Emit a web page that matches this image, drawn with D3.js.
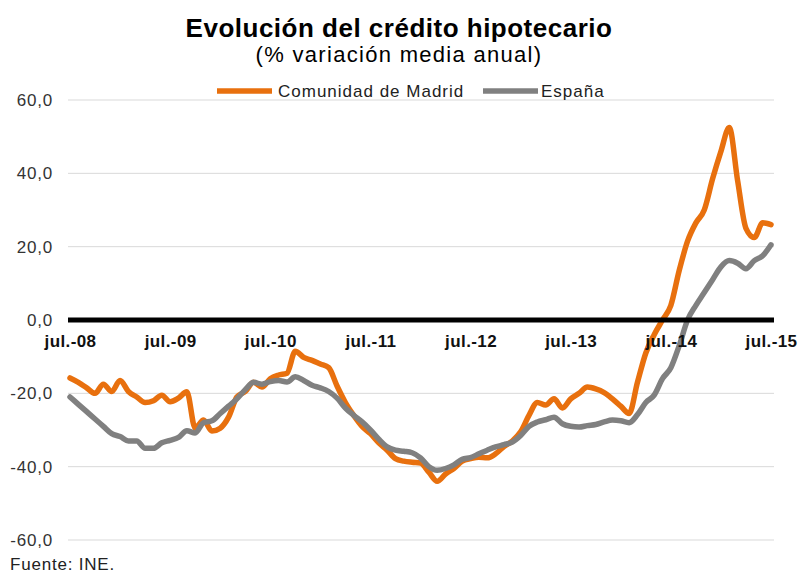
<!DOCTYPE html>
<html>
<head>
<meta charset="utf-8">
<script src="https://cdn.jsdelivr.net/npm/d3@7"></script>
<style>
    body { margin: 0; background: #fff; }
    svg text { font-family: "Liberation Sans", Arial, sans-serif; }
</style>
</head>
<body>
<svg id="chart" width="798" height="576"></svg>
<script>
// monthly values, jul-08 .. jul-15
const months = d3.range(85);
const xLabels = ["jul.-08", "jul.-09", "jul.-10", "jul.-11", "jul.-12", "jul.-13", "jul.-14", "jul.-15"];
const yTicks = [-60, -40, -20, 0, 20, 40, 60];

const madrid = [
    -15.8, -17, -18.5, -20, -17.5, -19.5, -16.5, -19.5, -21, -22.5, -22, -20.5,
    -22.3, -21.3, -19.6, -29.5, -27.3, -30.3, -29.5, -26.5, -21, -19.5, -17, -18.3,
    -16, -15, -14.5, -8.5, -10.2, -11, -12, -13, -18, -22.5, -26, -29,
    -31, -33.5, -35.5, -37.8, -38.5, -38.8, -39, -41.5, -44, -42, -40.5, -38.5,
    -37.8, -37.4, -37.6, -36.5, -34.5, -33, -30.5, -26, -22.5, -23.2, -21.5, -24,
    -21.5, -20, -18.3, -18.8, -19.8, -21.5, -23.5, -25.5, -17, -9, -4, 0,
    4, 13.5, 21.5, 26.5, 30, 38.5, 46, 52.5, 38, 25, 22.5, 26.5,
    26
];

const espana = [
    -21, -23, -25, -27, -29, -31, -31.8, -33, -33, -35, -35, -33.5,
    -32.8, -32, -30.2, -30.8, -28, -27.5, -25.5, -23.5, -21.5, -19, -17, -17.5,
    -16.8, -16.5, -16.9, -15.5, -16.5, -17.8, -18.5, -19.5, -21.3, -24, -26, -27.8,
    -30, -32.5, -34.6, -35.5, -35.8, -36.2, -37.6, -40, -41, -40.5, -39.5, -38,
    -37.5, -36.5, -35.5, -34.6, -34, -33.3, -31.5, -29, -27.8, -27.2, -26.5, -28.3,
    -29, -29.2, -28.8, -28.5, -27.8, -27.3, -27.5, -28, -25.8, -22.5, -20.5, -16,
    -13, -7, 0, 4, 7.5, 11, 14.5, 16.2, 15.5, 14, 16.2, 17.5,
    20.5
];

const series = [
    { name: "Comunidad de Madrid", values: madrid, color: "#e8700e" },
    { name: "España", values: espana, color: "#808080" }
];

const svg = d3.select("#chart");
const plotLeft = 68, plotRight = 774, plotTop = 100, plotBottom = 540;

const x = d3.scaleLinear().domain([0, 84]).range([70, 771]);
const y = d3.scaleLinear().domain([-60, 60]).range([plotBottom, plotTop]);

// title
svg.append("text")
    .attr("x", 399).attr("y", 37)
    .attr("text-anchor", "middle")
    .style("font-size", "26px").style("font-weight", "bold")
    .style("letter-spacing", "0.5px")
    .text("Evolución del crédito hipotecario");
svg.append("text")
    .attr("x", 399).attr("y", 62)
    .attr("text-anchor", "middle")
    .style("font-size", "22px")
    .style("letter-spacing", "1.3px")
    .text("(% variación media anual)");

// grid
svg.selectAll(".grid")
    .data(yTicks.filter(d => d != 0))
    .join("line")
    .classed("grid", true)
    .attr("x1", plotLeft).attr("x2", plotRight)
    .attr("y1", d => y(d)).attr("y2", d => y(d))
    .style("stroke", "#d9d9d9").style("stroke-width", 1);

// y axis labels
const yAxis = d3.axisLeft(y).tickValues(yTicks).tickSize(0).tickPadding(0)
    .tickFormat(d => d3.format(".1f")(d).replace(".", ",").replace("−", "-"));
svg.append("g")
    .attr("transform", "translate(53,0)")
    .call(yAxis)
    .call(g => g.select(".domain").remove())
    .call(g => g.selectAll("text")
        .style("font-size", "17px").style("fill", "#333")
        .style("letter-spacing", "0.8px")
        .style("font-family", "Liberation Sans, Arial, sans-serif"));

// lines
const line = d3.line().x((d, i) => x(i)).y(d => y(d)).curve(d3.curveMonotoneX);
svg.selectAll(".series")
    .data(series)
    .join("path")
    .classed("series", true)
    .attr("d", d => line(d.values))
    .style("fill", "none")
    .style("stroke", d => d.color)
    .style("stroke-width", 5.5)
    .style("stroke-linejoin", "round")
    .style("stroke-linecap", "round");

// zero line drawn over lines
svg.append("line")
    .attr("x1", plotLeft).attr("x2", plotRight)
    .attr("y1", y(0)).attr("y2", y(0))
    .style("stroke", "#000").style("stroke-width", 5);

// x labels
const xAxis = d3.axisBottom(x).tickValues(d3.range(0, 85, 12)).tickSize(0).tickPadding(0)
    .tickFormat((d, i) => xLabels[i]);
svg.append("g")
    .attr("transform", `translate(0,${y(0) + 15})`)
    .call(xAxis)
    .call(g => g.select(".domain").remove())
    .call(g => g.selectAll("text")
        .style("font-size", "17px").style("font-weight", "bold").style("fill", "#111")
        .style("letter-spacing", "0.4px")
        .style("font-family", "Liberation Sans, Arial, sans-serif"));

// legend
const legend = svg.append("g");
const legendItems = [
    { s: series[0], x: 217, tx: 278 },
    { s: series[1], x: 483, tx: 541 }
];
legendItems.forEach(it => {
    legend.append("line")
        .attr("x1", it.x).attr("x2", it.x + 55)
        .attr("y1", 91).attr("y2", 91)
        .style("stroke", it.s.color).style("stroke-width", 5.5);
    legend.append("text")
        .attr("x", it.tx).attr("y", 97)
        .style("font-size", "17px").style("fill", "#222")
        .style("letter-spacing", "1px")
        .text(it.s.name);
});

// source
svg.append("text")
    .attr("x", 10).attr("y", 570)
    .style("font-size", "17px").style("fill", "#222")
    .style("letter-spacing", "0.8px")
    .text("Fuente: INE.");
</script>
</body>
</html>
